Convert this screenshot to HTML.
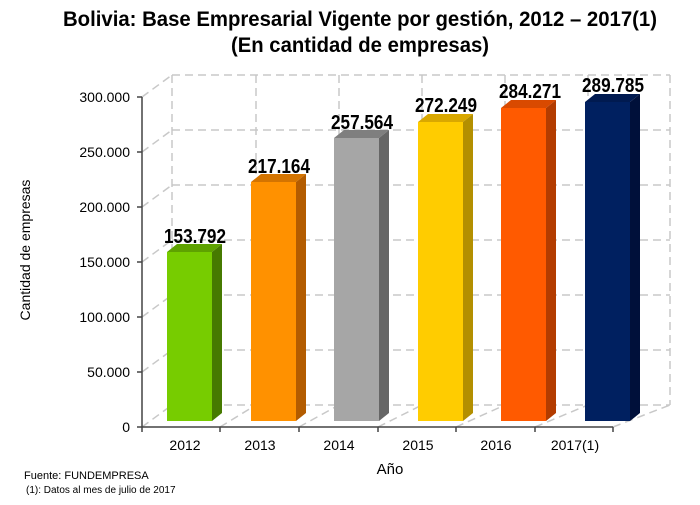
<!DOCTYPE html>
<html><head><meta charset="utf-8"><style>
body{margin:0;background:#fff;}
svg text{font-family:"Liberation Sans",sans-serif;}
</style></head><body>
<svg width="700" height="500" xmlns="http://www.w3.org/2000/svg">
<text x="360" y="26" text-anchor="middle" font-size="21" font-weight="bold" textLength="594" lengthAdjust="spacingAndGlyphs">Bolivia: Base Empresarial Vigente por gestión, 2012 – 2017(1)</text>
<text x="360" y="52" text-anchor="middle" font-size="21" font-weight="bold" textLength="258" lengthAdjust="spacingAndGlyphs">(En cantidad de empresas)</text>
<g stroke="#c8c8c8" stroke-width="1.5" stroke-dasharray="8,5" fill="none">
<line x1="172" y1="75" x2="670" y2="75"/><line x1="172" y1="130" x2="670" y2="130"/>
<line x1="172" y1="185" x2="670" y2="185"/><line x1="172" y1="240" x2="670" y2="240"/>
<line x1="172" y1="295" x2="670" y2="295"/><line x1="172" y1="350" x2="670" y2="350"/>
<line x1="172" y1="405" x2="670" y2="405"/>
<line x1="172" y1="75" x2="172" y2="405"/><line x1="256" y1="75" x2="256" y2="405"/>
<line x1="339" y1="75" x2="339" y2="405"/><line x1="422" y1="75" x2="422" y2="405"/>
<line x1="505" y1="75" x2="505" y2="405"/><line x1="588" y1="75" x2="588" y2="405"/>
<line x1="670" y1="75" x2="670" y2="405"/>
<line x1="142" y1="97" x2="172" y2="75"/><line x1="142" y1="152" x2="172" y2="130"/>
<line x1="142" y1="207" x2="172" y2="185"/><line x1="142" y1="262" x2="172" y2="240"/>
<line x1="142" y1="317" x2="172" y2="295"/><line x1="142" y1="372" x2="172" y2="350"/>
<line x1="142" y1="427" x2="172" y2="405"/>
<line x1="220" y1="427" x2="256" y2="405"/><line x1="299" y1="427" x2="339" y2="405"/>
<line x1="378" y1="427" x2="422" y2="405"/><line x1="456" y1="427" x2="505" y2="405"/>
<line x1="535" y1="427" x2="588" y2="405"/><line x1="613" y1="427" x2="670" y2="405"/>
</g>
<g stroke="#444" stroke-width="1.5">
<line x1="142" y1="97" x2="142" y2="427"/><line x1="142" y1="427" x2="613" y2="427"/>
<line x1="137" y1="97" x2="142" y2="97"/><line x1="137" y1="152" x2="142" y2="152"/>
<line x1="137" y1="207" x2="142" y2="207"/><line x1="137" y1="262" x2="142" y2="262"/>
<line x1="137" y1="317" x2="142" y2="317"/><line x1="137" y1="372" x2="142" y2="372"/>
<line x1="137" y1="427" x2="142" y2="427"/>
<line x1="142" y1="427" x2="142" y2="432"/><line x1="220" y1="427" x2="220" y2="432"/>
<line x1="299" y1="427" x2="299" y2="432"/><line x1="378" y1="427" x2="378" y2="432"/>
<line x1="456" y1="427" x2="456" y2="432"/><line x1="535" y1="427" x2="535" y2="432"/>
<line x1="613" y1="427" x2="613" y2="432"/>
</g>
<g font-size="14" text-anchor="end">
<text x="130" y="102">300.000</text><text x="130" y="157">250.000</text>
<text x="130" y="212">200.000</text><text x="130" y="267">150.000</text>
<text x="130" y="322">100.000</text><text x="130" y="377">50.000</text>
<text x="130" y="432">0</text>
</g>
<text transform="translate(30,250) rotate(-90)" text-anchor="middle" font-size="14">Cantidad de empresas</text>
<g font-size="14" text-anchor="middle">
<text x="185" y="450">2012</text><text x="260" y="450">2013</text><text x="339" y="450">2014</text>
<text x="418" y="450">2015</text><text x="496" y="450">2016</text><text x="575" y="450">2017(1)</text>
<text x="390" y="474" font-size="15">Año</text>
</g>
<g>
<polygon points="167,252 177,244 222,244 212,252" fill="#5ea200"/><rect x="167" y="252" width="45" height="169" fill="#77cc00"/><polygon points="212,252 222,244 222,413 212,421" fill="#467a00"/>
<polygon points="251,182 261,174 306,174 296,182" fill="#d47400"/><rect x="251" y="182" width="45" height="239" fill="#ff9100"/><polygon points="296,182 306,174 306,413 296,421" fill="#b35c00"/>
<polygon points="334,138 344,130 389,130 379,138" fill="#7f7f7f"/><rect x="334" y="138" width="45" height="283" fill="#a6a6a6"/><polygon points="379,138 389,130 389,413 379,421" fill="#666"/>
<polygon points="418,122 428,114 473,114 463,122" fill="#d9a800"/><rect x="418" y="122" width="45" height="299" fill="#ffcc00"/><polygon points="463,122 473,114 473,413 463,421" fill="#b38f00"/>
<polygon points="501,108 511,100 556,100 546,108" fill="#d94a00"/><rect x="501" y="108" width="45" height="313" fill="#ff5a00"/><polygon points="546,108 556,100 556,413 546,421" fill="#b33c00"/>
<polygon points="585,102 595,94 640,94 630,102" fill="#001a50"/><rect x="585" y="102" width="45" height="319" fill="#002060"/><polygon points="630,102 640,94 640,413 630,421" fill="#00103a"/>
</g>
<g font-size="20" font-weight="bold" text-anchor="middle" lengthAdjust="spacingAndGlyphs">
<text x="195" y="243" textLength="62" lengthAdjust="spacingAndGlyphs">153.792</text>
<text x="279" y="173" textLength="62" lengthAdjust="spacingAndGlyphs">217.164</text>
<text x="362" y="129" textLength="62" lengthAdjust="spacingAndGlyphs">257.564</text>
<text x="446" y="112" textLength="62" lengthAdjust="spacingAndGlyphs">272.249</text>
<text x="530" y="98" textLength="62" lengthAdjust="spacingAndGlyphs">284.271</text>
<text x="613" y="92" textLength="62" lengthAdjust="spacingAndGlyphs">289.785</text>
</g>
<text x="24" y="479" font-size="11">Fuente:  FUNDEMPRESA</text>
<text x="26" y="493" font-size="10">(1): Datos al mes de julio de 2017</text>
</svg>
</body></html>
